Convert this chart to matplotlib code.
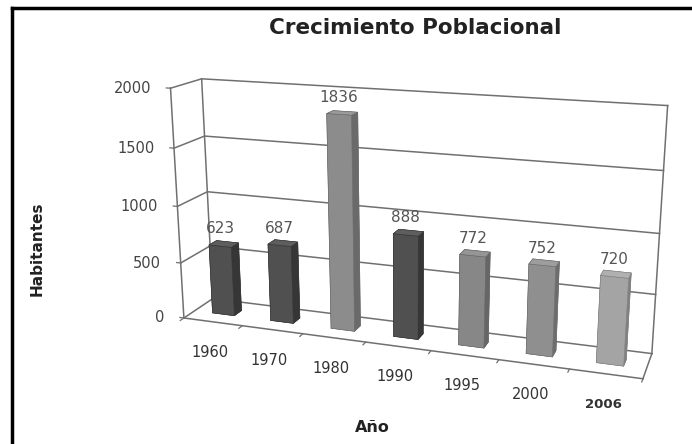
import matplotlib.pyplot as plt
from matplotlib.lines import Line2D
from mpl_toolkits.mplot3d import proj3d

# datos
anios = ["1960", "1970", "1980", "1990", "1995", "2000", "2006"]
habitantes = [623, 687, 1836, 888, 772, 752, 720]
yticks = [0, 500, 1000, 1500, 2000]

# color de cada barra: (frente, lado, arriba)
oscuro = ("#505050", "#363636", "#5e5e5e")
colores = [oscuro, oscuro, ("#8c8c8c", "#6a6a6a", "#9a9a9a"), oscuro,
           ("#878787", "#666666", "#959595"), ("#8f8f8f", "#6d6d6d", "#9d9d9d"),
           ("#a4a4a4", "#808080", "#b0b0b0")]
linea = "#707070"

fig = plt.figure(figsize=(6.92, 4.44), dpi=100)
# ejes cuadrados de 700 px para que no recorte la caja 3D
ax = fig.add_axes([0.0708, -0.3037, 700 / 692, 700 / 444], projection="3d",
                  computed_zorder=False)
ax.set_axis_off()
ax.set_proj_type("persp", focal_length=0.3)
ax.view_init(elev=16, azim=-71)
ax.set_box_aspect((7.6, 1.0, 3.87), zoom=0.763)

n = len(anios)
x0, x1 = -0.5, n - 0.5
y0, y1 = 0.0, 1.0
zmax = yticks[-1]
ax.set_xlim(x0, x1)
ax.set_ylim(y0, y1)
ax.set_zlim(0, zmax)


def proj(x, y, z):
    px, py, _ = proj3d.proj_transform(x, y, z, ax.get_proj())
    return float(px), float(py)


# paredes y cuadricula
for z in yticks:
    ax.plot([x0, x0, x1], [y0, y1, y1], [z, z, z], color=linea, lw=1.1, zorder=1)
ax.plot([x0, x0], [y1, y1], [0, zmax], color=linea, lw=1.1, zorder=1)
ax.plot([x1, x1], [y1, y1], [0, zmax], color=linea, lw=1.1, zorder=1)
ax.plot([x0, x0], [y0, y0], [0, zmax], color=linea, lw=1.1, zorder=1)
ax.plot([x1, x1], [y0, y1], [0, 0], color=linea, lw=1.1, zorder=1)

# barras
w, d = 0.38, 0.26
for i, (h, (frente, lado, arriba)) in enumerate(zip(habitantes, colores)):
    # orden de caras: -z, +z, -y, +y, -x, +x
    caras = [frente, arriba, frente, frente, lado, lado]
    ax.bar3d(i - w / 2, 0.5 - d / 2, 0, w, d, h, color=caras, shade=False,
             edgecolor=lado, linewidth=0.4, zorder=2)

# borde frontal del piso y marcas
ax.plot([x0, x1], [y0, y0], [0, 0], color=linea, lw=1.1, zorder=5)
for k in range(n + 1):
    ax.plot([x0 + k, x0 + k], [y0, y0 - 0.12], [0, 0], color=linea, lw=0.9, zorder=5)
for z in yticks:
    ax.plot([x0, x0 - 0.07], [y0, y0], [z, z], color=linea, lw=0.9, zorder=5)

# textos
for z in yticks:
    ax.annotate(str(z), proj(x0, y0, z), xytext=(-14, 0), textcoords="offset points",
                ha="right", va="center", fontsize=10.5, color="#444444",
                annotation_clip=False)

for i, h in enumerate(habitantes):
    ax.annotate(str(h), proj(i, 0.5 - d / 2, h), xytext=(0, 7), textcoords="offset points",
                ha="center", va="bottom", fontsize=11, color="#555555",
                annotation_clip=False)

for i, a in enumerate(anios):
    negrita = a == "2006"
    ax.annotate(a, proj(i, y0, 0), xytext=(-2, -22), textcoords="offset points",
                ha="center", va="center", fontsize=9.5 if negrita else 10.5,
                fontweight="bold" if negrita else "normal", color="#333333",
                annotation_clip=False)

fig.text(415 / 692, 1 - 28 / 444, "Crecimiento Poblacional", ha="center", va="center",
         fontsize=15.5, fontweight="bold", color="#222222")
fig.text(37 / 692, 1 - 249 / 444, "Habitantes", rotation=90, ha="center", va="center",
         fontsize=11, fontweight="bold", color="#222222")
fig.text(372 / 692, 1 - 427 / 444, "Año", ha="center", va="center",
         fontsize=11.5, fontweight="bold", color="#222222")

# marco
fig.add_artist(Line2D([12 / 692, 12 / 692], [0, 1 - 8 / 444], color="black", lw=2.5,
                      transform=fig.transFigure))
fig.add_artist(Line2D([12 / 692, 1], [1 - 8 / 444, 1 - 8 / 444], color="black", lw=2.5,
                      transform=fig.transFigure))

fig.savefig("out.png", dpi=100, facecolor="white")
